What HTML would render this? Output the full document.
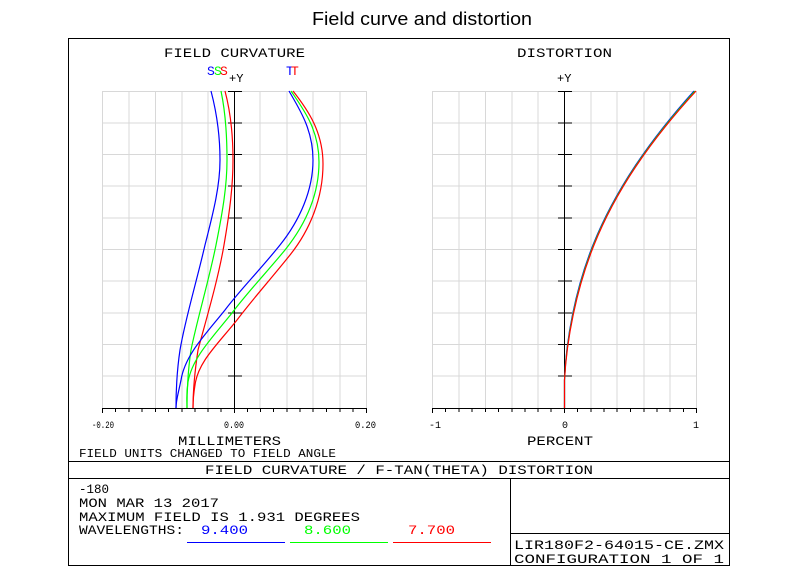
<!DOCTYPE html>
<html><head><meta charset="utf-8"><style>
html,body{margin:0;padding:0;background:#fff;}
svg{display:block;}
.m{font-family:"Liberation Mono",monospace;font-size:13px;fill:#000;}
</style></head><body>
<svg width="800" height="567" viewBox="0 0 800 567" xmlns="http://www.w3.org/2000/svg">
<rect width="800" height="567" fill="#fff"/>
<text x="422" y="25" text-anchor="middle" font-family="Liberation Sans, sans-serif" font-size="18" textLength="220" lengthAdjust="spacingAndGlyphs">Field curve and distortion</text>
<rect x="68.5" y="38.5" width="661" height="527" fill="none" stroke="#000" stroke-width="1"/>
<g stroke="#d8d8d8" stroke-width="1">
<path d="M102.5 91V408M129 91V408M155.5 91V408M182 91V408M208 91V408M260 91V408M287 91V408M313 91V408M340 91V408M366.5 91V408"/>
<path d="M102 91.5H366M102 123H366M154.5 154.5H366M102 154.5H366M102 186H366M102 218H366M102 249.5H366M102 281H366M102 313H366M102 344.5H366M102 376H366"/>
<path d="M432.5 91V408M459 91V408M485.5 91V408M512 91V408M538 91V408M591 91V408M617 91V408M644 91V408M670 91V408M696.5 91V408"/>
<path d="M432 91.5H697M432 123H697M432 154.5H697M432 186H697M432 218H697M432 249.5H697M432 281H697M432 313H697M432 344.5H697M432 376H697"/>
</g>
<g stroke="#000" stroke-width="1" fill="none">
<path d="M234.5 91V408M102 408.5H367"/>
<path d="M228 91.5H242M228 123H242M228 154.5H242M228 186H242M228 218H242M228 249.5H242M228 281H242M228 313H242M228 344.5H242M228 376H242"/>
<path d="M102.5 408V413M115.5 408V412M129 408V412M142 408V412M155.5 408V412M168.5 408V412M182 408V412M195 408V412M208 408V412M221 408V412M234.5 408V413M247.5 408V412M260.5 408V412M273.5 408V412M287 408V412M300 408V412M313 408V412M326.5 408V412M340 408V412M353 408V412M366.5 408V413"/>
<path d="M564.5 91V408M432 408.5H697"/>
<path d="M558 91.5H572M558 123H572M558 154.5H572M558 186H572M558 218H572M558 249.5H572M558 281H572M558 313H572M558 344.5H572M558 376H572"/>
<path d="M432.5 408V413M445.5 408V412M459 408V412M472 408V412M485.5 408V412M498.5 408V412M512 408V412M525 408V412M538 408V412M551 408V412M564.5 408V413M577.5 408V412M591 408V412M604 408V412M617 408V412M630.5 408V412M644 408V412M657 408V412M670 408V412M683.5 408V412M696.5 408V413"/>
<path d="M69 461.5H730M69 478.5H730M510.5 478V566M510 533.5H730"/>
</g>
<g fill="none" stroke-width="1.2">
<path stroke="#00f" d="M211 91 C216 110 220 135 220 160 C220 185 214 210 205 245 C197 280 185 320 180 350 C177 370 176 390 176 408"/>
<path stroke="#0f0" d="M221 91 C225 110 227 135 227 160 C227 185 223 210 216 245 C209 280 197 320 191 350 C188 370 187 390 187 408"/>
<path stroke="#f00" d="M225 91 C230 110 233 135 233 160 C233 185 230 210 224 245 C218 280 206 320 198 350 C195 370 193 390 193 408"/>
<path stroke="#00f" d="M289 91 C300 110 313 130 313 160 C313 190 300 220 280 245 C260 270 240 290 225 310 C205 335 185 355 181 380 C178 395 176 400 176 408"/>
<path stroke="#0f0" d="M291 91 C304 110 319 130 319 162 C319 195 305 225 285 250 C266 273 247 293 232 313 C212 338 192 358 188 382 C186 395 187 400 187 408"/>
<path stroke="#f00" d="M293 91 C308 110 323 132 323 164 C323 198 310 230 290 255 C270 280 252 300 237 320 C217 345 198 362 195 385 C193 397 193 402 193 408"/>
<path stroke="#00f" d="M564.5 408 L564.5 380 C566 340 575 290 593 245 C615 190 650 140 694 91"/>
<path stroke="#0f0" d="M564.5 408 L564.5 380 C566.3 340 575.5 290 593.5 245 C615.5 190 650.5 140 695 91"/>
<path stroke="#f00" d="M564.5 408 L564.5 380 C566.6 340 576 290 594 245 C616 190 651 140 696 91"/>
</g>
<g class="m">
<text x="164" y="57" textLength="141" lengthAdjust="spacingAndGlyphs">FIELD CURVATURE</text>
<text x="517" y="57" textLength="95" lengthAdjust="spacingAndGlyphs">DISTORTION</text>
<text x="207" y="75" fill="#00f">S</text><text x="214" y="75" fill="#0f0">S</text><text x="220" y="75" fill="#f00">S</text>
<text x="286" y="75" fill="#00f">T</text><text x="291" y="75" fill="#f00">T</text>
<text x="229" y="82" font-size="12">+Y</text>
<text x="557" y="82" font-size="12">+Y</text>
<text x="92" y="428" font-size="10" textLength="22" lengthAdjust="spacingAndGlyphs">-0.20</text>
<text x="224" y="428" font-size="10" textLength="20" lengthAdjust="spacingAndGlyphs">0.00</text>
<text x="355" y="428" font-size="10" textLength="21" lengthAdjust="spacingAndGlyphs">0.20</text>
<text x="429" y="428" font-size="10">-1</text>
<text x="562" y="428" font-size="10">0</text>
<text x="693" y="428" font-size="10">1</text>
<text x="178" y="445" textLength="103" lengthAdjust="spacingAndGlyphs">MILLIMETERS</text>
<text x="527" y="445" textLength="66" lengthAdjust="spacingAndGlyphs">PERCENT</text>
<text x="79" y="457" font-size="12" textLength="257" lengthAdjust="spacingAndGlyphs">FIELD UNITS CHANGED TO FIELD ANGLE</text>
<text x="205" y="474" textLength="388" lengthAdjust="spacingAndGlyphs">FIELD CURVATURE / F-TAN(THETA) DISTORTION</text>
<text x="79" y="493" textLength="30" lengthAdjust="spacingAndGlyphs">-180</text>
<text x="79" y="507" textLength="140" lengthAdjust="spacingAndGlyphs">MON MAR 13 2017</text>
<text x="79" y="521" textLength="281" lengthAdjust="spacingAndGlyphs">MAXIMUM FIELD IS 1.931 DEGREES</text>
<text x="79" y="534" textLength="105" lengthAdjust="spacingAndGlyphs">WAVELENGTHS:</text>
<text x="201" y="534" fill="#00f" textLength="47" lengthAdjust="spacingAndGlyphs">9.400</text>
<text x="304" y="534" fill="#0f0" textLength="47" lengthAdjust="spacingAndGlyphs">8.600</text>
<text x="408" y="534" fill="#f00" textLength="47" lengthAdjust="spacingAndGlyphs">7.700</text>
<text x="514" y="549" textLength="210" lengthAdjust="spacingAndGlyphs">LIR180F2-64015-CE.ZMX</text>
<text x="514" y="563" textLength="210" lengthAdjust="spacingAndGlyphs">CONFIGURATION 1 OF 1</text>
</g>
<path d="M187 542.5H285" stroke="#00f"/>
<path d="M290 542.5H388" stroke="#0f0"/>
<path d="M393 542.5H491" stroke="#f00"/>
</svg>
</body></html>
